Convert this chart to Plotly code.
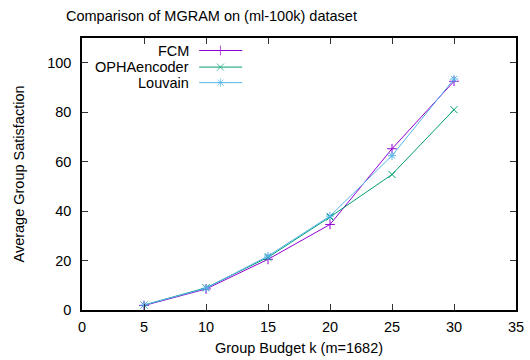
import plotly.graph_objects as go

budget_k = [5, 10, 15, 20, 25, 30]
fcm = [1.8, 8.5, 20.5, 34.6, 65.2, 92.5]
opha = [2.0, 9.0, 21.3, 37.6, 54.8, 81.0]
louvain = [2.0, 8.8, 21.8, 38.0, 62.4, 93.4]
series_names = ["FCM", "OPHAencoder", "Louvain"]
series_colors = ["#9400d3", "#009e73", "#56b4e9"]
series_symbols = ["cross-thin", "x-thin", "asterisk"]

x_ticks = [0, 5, 10, 15, 20, 25, 30, 35]
y_ticks = [0, 20, 40, 60, 80, 100]

FONT = "Liberation Sans, Arial, sans-serif"
FS = 14.5

fig = go.Figure()
for name, vals, col, sym in zip(series_names, [fcm, opha, louvain], series_colors, series_symbols):
    fig.add_trace(go.Scatter(
        x=budget_k, y=vals, mode="lines+markers", name=name,
        line=dict(color=col, width=1),
        marker=dict(symbol=sym, size=7, color=col, line=dict(color=col, width=1)),
        showlegend=False,
    ))

# manual gnuplot-style legend (text right, sample left)
leg_y = [0.954, 0.893, 0.836]
for name, col, sym, yy in zip(series_names, series_colors, series_symbols, leg_y):
    fig.add_trace(go.Scatter(
        x=[0.27, 0.319, 0.369], y=[yy, yy, yy], xaxis="x2", yaxis="y2",
        mode="lines+markers", line=dict(color=col, width=1),
        marker=dict(symbol=sym, size=[0, 7, 0], color=col, line=dict(color=col, width=1)),
        showlegend=False, hoverinfo="skip", cliponaxis=False,
    ))
    fig.add_annotation(x=0.252, y=yy, xref="paper", yref="paper", text=name,
                       showarrow=False, xanchor="right", yanchor="middle",
                       font=dict(family=FONT, size=FS, color="black"))

axis_common = dict(showline=True, linecolor="black", linewidth=1.5, mirror="ticks",
                   ticks="inside", ticklen=6, tickwidth=1, tickcolor="#333",
                   showgrid=False, zeroline=False, automargin=False,
                   tickfont=dict(family=FONT, size=FS, color="black"))

fig.update_layout(
    width=530, height=360,
    margin=dict(l=82, r=14, t=38, b=50),
    paper_bgcolor="white", plot_bgcolor="white",
    title=dict(text="Comparison of MGRAM on (ml-100k) dataset", x=66/530, xanchor="left",
               y=1 - 16/360, yanchor="middle",
               font=dict(family=FONT, size=FS, color="black")),
    xaxis=dict(range=[0, 35], tickvals=x_ticks, ticklabelstandoff=3,
               title=dict(text="Group Budget k (m=1682)", standoff=9,
                          font=dict(family=FONT, size=FS, color="black")),
               **axis_common),
    yaxis=dict(range=[0, 110], tickvals=y_ticks, ticklabelstandoff=6,
               title=dict(text="Average Group Satisfaction", standoff=19,
                          font=dict(family=FONT, size=FS, color="black")),
               **axis_common),
    xaxis2=dict(range=[0, 1], overlaying="x", visible=False),
    yaxis2=dict(range=[0, 1], overlaying="y", visible=False),
)

fig.write_html("out.html")
